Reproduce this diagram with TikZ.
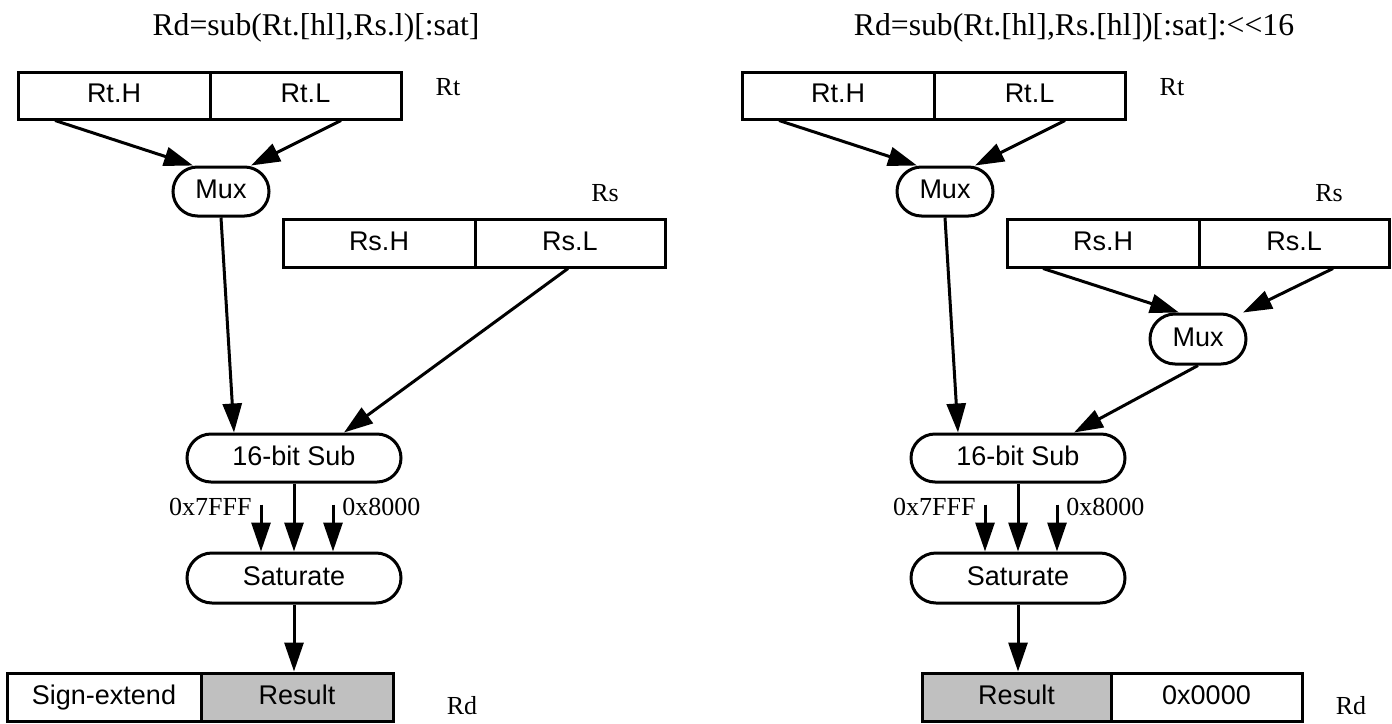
\documentclass[tikz,border=0pt]{standalone}
\usepackage{fontspec}
\setmainfont{Liberation Serif}
\newfontfamily\arialf{Liberation Sans}
\usetikzlibrary{arrows.meta,shapes.misc,calc}
\definecolor{resgray}{RGB}{192,192,192}
\begin{document}
\begin{tikzpicture}[x=0.5pt,y=-0.5pt,
  cell/.style={draw,line width=1.5pt,minimum height=24pt,inner sep=0pt,
    text height=9.5pt,text depth=2.5pt,
    font=\arialf\fontsize{13.5pt}{15pt}\selectfont},
  pill/.style={draw,rounded rectangle,line width=1.5pt,inner sep=0pt,
    text height=9.5pt,text depth=2.5pt,
    font=\arialf\fontsize{13.5pt}{15pt}\selectfont},
  arr/.style={-{Triangle[length=14.5pt,width=9.5pt]},line width=1.5pt},
  lbl/.style={font=\fontsize{13pt}{15pt}\selectfont,inner sep=0pt},
  ttl/.style={font=\fontsize{15.85pt}{19pt}\selectfont,inner sep=0pt}]
\useasboundingbox (0,0) rectangle (1392,723);

% ---------- left diagram ----------
\node[ttl,anchor=base] (t1) at (316,35) {Rd=sub(Rt.[hl],Rs.l)[:sat]};
\node[cell,minimum width=96pt,minimum height=23.5pt] (rth) at (114,95.5) {Rt.H};
\node[cell,minimum width=95.5pt,minimum height=23.5pt] (rtl) at (305.5,95.5) {Rt.L};
\node[lbl,anchor=base] (rt) at (448,95) {Rt};
\node[pill,minimum width=48pt,minimum height=24.5pt] (mux) at (221,191.5) {Mux};
\node[lbl,anchor=base] (rs) at (605,201) {Rs};
\node[cell,minimum width=96pt] (rsh) at (379,243) {Rs.H};
\node[cell,minimum width=95pt] (rsl) at (570,243) {Rs.L};
\node[pill,minimum width=107pt,minimum height=24pt] (sub) at (294,458) {16-bit Sub};
\node[pill,minimum width=107pt,minimum height=25pt] (sat) at (294,578) {Saturate};
\node[lbl,anchor=base east] (c7) at (252,515) {0x7FFF};
\node[lbl,anchor=base west] (c8) at (342,515) {0x8000};
\node[cell,minimum width=97pt] (sx) at (104,697) {Sign-extend};
\node[cell,fill=resgray,minimum width=96pt] (res) at (297,697) {Result};
\node[lbl,anchor=base] (rd) at (462,714) {Rd};

\draw[arr] ($(rth.south)+(-59,0)$) -- ($(mux.north)+(-28,0)$);
\draw[arr] ($(rtl.south)+(35.5,0)$) -- ($(mux.north)+(30,0)$);
\draw[arr] (mux.south) -- ($(sub.north)+(-60,0)$);
\draw[arr] ($(rsl.south)+(-2,0)$) -- ($(sub.north)+(50,0)$);
\draw[arr] (sub.south) -- (sat.north);
\coordinate (a7) at ($(sat.north)+(-33,-47)$);
\coordinate (a8) at ($(sat.north)+(39,-47)$);
\draw[arr] (a7) -- (a7 |- sat.north);
\draw[arr] (a8) -- (a8 |- sat.north);
\draw[arr] (sat.south) -- (sat.south |- res.north);

% ---------- right diagram ----------
\node[ttl,anchor=base] (t2) at (1074,35) {Rd=sub(Rt.[hl],Rs.[hl])[:sat]:<\kern0pt<16};
\node[cell,minimum width=96pt,minimum height=23.5pt] (rth2) at (838,95.5) {Rt.H};
\node[cell,minimum width=95.5pt,minimum height=23.5pt] (rtl2) at (1029.5,95.5) {Rt.L};
\node[lbl,anchor=base] (rt2) at (1172,95) {Rt};
\node[pill,minimum width=48pt,minimum height=24.5pt] (mux2) at (945,191.5) {Mux};
\node[lbl,anchor=base] (rs2) at (1329,201) {Rs};
\node[cell,minimum width=96pt] (rsh2) at (1103,243) {Rs.H};
\node[cell,minimum width=95pt] (rsl2) at (1294,243) {Rs.L};
\node[pill,minimum width=48pt,minimum height=25pt] (muxb) at (1198,339) {Mux};
\node[pill,minimum width=107pt,minimum height=24pt] (sub2) at (1018,458) {16-bit Sub};
\node[pill,minimum width=107pt,minimum height=25pt] (sat2) at (1018,578) {Saturate};
\node[lbl,anchor=base east] (c7b) at (976,515) {0x7FFF};
\node[lbl,anchor=base west] (c8b) at (1066,515) {0x8000};
\node[cell,fill=resgray,minimum width=94.5pt] (res2) at (1016.5,697) {Result};
\node[cell,minimum width=95.5pt] (zero2) at (1206.5,697) {0x0000};
\node[lbl,anchor=base] (rd2) at (1351,714) {Rd};

\draw[arr] ($(rth2.south)+(-59,0)$) -- ($(mux2.north)+(-28,0)$);
\draw[arr] ($(rtl2.south)+(35.5,0)$) -- ($(mux2.north)+(30,0)$);
\draw[arr] (mux2.south) -- ($(sub2.north)+(-60,0)$);
\draw[arr] ($(rsh2.south)+(-60,0)$) -- ($(muxb.north)+(-19,0)$);
\draw[arr] ($(rsl2.south)+(39,0)$) -- ($(muxb.north)+(45,0)$);
\draw[arr] (muxb.south) -- ($(sub2.north)+(56,0)$);
\draw[arr] (sub2.south) -- (sat2.north);
\coordinate (b7) at ($(sat2.north)+(-33,-47)$);
\coordinate (b8) at ($(sat2.north)+(39,-47)$);
\draw[arr] (b7) -- (b7 |- sat2.north);
\draw[arr] (b8) -- (b8 |- sat2.north);
\draw[arr] (sat2.south) -- (sat2.south |- res2.north);
\end{tikzpicture}
\end{document}
